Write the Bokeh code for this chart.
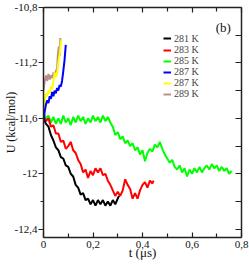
from bokeh.plotting import figure
from bokeh.models import LinearAxis, FixedTicker, Label, Legend, LegendItem, Range1d
from bokeh.embed import file_html
from bokeh.resources import INLINE

# ---------------- data ----------------
t_281 = [0.00, 0.01, 0.02, 0.03, 0.04, 0.05, 0.06, 0.07, 0.08, 0.09, 0.10, 0.11, 0.12, 0.13, 0.14, 0.15,
         0.16, 0.17, 0.18, 0.19, 0.20, 0.21, 0.22, 0.23, 0.24, 0.25, 0.26, 0.27, 0.28, 0.29, 0.30, 0.305]
u_281 = [-11.60, -11.64, -11.66, -11.72, -11.76, -11.81, -11.83, -11.88, -11.89, -11.94, -11.95, -12.00,
         -12.02, -12.08, -12.10, -12.15, -12.14, -12.19, -12.18, -12.22, -12.19, -12.23, -12.19, -12.22,
         -12.19, -12.23, -12.20, -12.23, -12.19, -12.22, -12.18, -12.16]

t_283 = [0.00, 0.01, 0.02, 0.03, 0.04, 0.05, 0.06, 0.07, 0.08, 0.09, 0.10, 0.11, 0.12, 0.13, 0.14, 0.15,
         0.16, 0.17, 0.18, 0.19, 0.20, 0.21, 0.22, 0.23, 0.24, 0.25, 0.26, 0.27, 0.28, 0.29, 0.30, 0.31,
         0.32, 0.33, 0.34, 0.35, 0.36, 0.37, 0.38, 0.39, 0.40, 0.41, 0.42, 0.43, 0.44, 0.445]
u_283 = [-11.58, -11.62, -11.60, -11.66, -11.65, -11.71, -11.71, -11.77, -11.76, -11.82, -11.80, -11.77,
         -11.83, -11.85, -11.90, -11.93, -11.99, -11.97, -12.03, -11.98, -12.01, -11.96, -11.99, -11.96,
         -12.01, -12.00, -12.05, -12.08, -12.12, -12.16, -12.13, -12.16, -12.12, -12.04, -12.08, -12.11,
         -12.18, -12.14, -12.18, -12.12, -12.08, -12.06, -12.10, -12.05, -12.07, -12.05]

t_285 = [0.00, 0.01, 0.02, 0.03, 0.04, 0.05, 0.06, 0.07, 0.08, 0.09, 0.10, 0.11, 0.12, 0.13, 0.14, 0.15,
         0.16, 0.17, 0.18, 0.19, 0.20, 0.21, 0.22, 0.23, 0.24, 0.25, 0.26, 0.27, 0.28, 0.29, 0.30, 0.31,
         0.32, 0.33, 0.34, 0.35, 0.36, 0.37, 0.38, 0.39, 0.40, 0.41, 0.42, 0.43, 0.44, 0.45, 0.46, 0.47,
         0.48, 0.49, 0.50, 0.51, 0.52, 0.53, 0.54, 0.55, 0.56, 0.57, 0.58, 0.59, 0.60, 0.61, 0.62, 0.63,
         0.64, 0.65, 0.66, 0.67, 0.68, 0.69, 0.70, 0.71, 0.72, 0.73, 0.74, 0.75, 0.76]
u_285 = [-11.56, -11.60, -11.58, -11.63, -11.59, -11.64, -11.60, -11.64, -11.58, -11.63, -11.60, -11.65,
         -11.59, -11.63, -11.58, -11.62, -11.59, -11.64, -11.60, -11.63, -11.58, -11.62, -11.59, -11.63,
         -11.58, -11.62, -11.59, -11.63, -11.66, -11.72, -11.70, -11.75, -11.73, -11.78, -11.76, -11.80,
         -11.78, -11.83, -11.81, -11.86, -11.83, -11.91, -11.85, -11.82, -11.84, -11.79, -11.81, -11.77,
         -11.82, -11.86, -11.89, -11.92, -11.90, -11.95, -11.97, -11.94, -11.99, -11.96, -12.02, -11.97,
         -12.00, -11.96, -11.99, -11.95, -11.99, -11.96, -11.94, -11.97, -11.93, -11.96, -11.94, -11.98,
         -11.95, -11.98, -11.96, -12.00, -11.98]

t_287a = [0.000, 0.005, 0.010, 0.015, 0.020, 0.025, 0.030, 0.035, 0.040, 0.045, 0.050, 0.055, 0.060,
          0.065, 0.070, 0.075, 0.080, 0.085, 0.090]
u_287a = [-11.62, -11.55, -11.50, -11.47, -11.49, -11.44, -11.46, -11.41, -11.44, -11.40, -11.42, -11.38,
          -11.40, -11.36, -11.37, -11.33, -11.26, -11.18, -11.07]

t_287b = [0.000, 0.005, 0.010, 0.015, 0.020, 0.025, 0.030, 0.035, 0.040, 0.045, 0.050, 0.055, 0.060,
          0.065, 0.070, 0.072]
u_287b = [-11.55, -11.48, -11.42, -11.44, -11.40, -11.42, -11.37, -11.39, -11.33, -11.27, -11.30, -11.28,
          -11.20, -11.14, -11.06, -11.03]

t_289 = [0.000, 0.005, 0.010, 0.015, 0.020, 0.025, 0.030, 0.035, 0.040, 0.045, 0.050, 0.055, 0.058,
         0.062, 0.065, 0.068]
u_289 = [-11.40, -11.33, -11.29, -11.33, -11.28, -11.32, -11.29, -11.31, -11.27, -11.30, -11.26, -11.24,
         -11.14, -11.08, -11.15, -11.02]

series_labels = ["281 K", "283 K", "285 K", "287 K", "287 K", "289 K"]
series_colors = ["#000000", "#ff0000", "#00ff00", "#0000ff", "#ffff00", "#bc8f8f"]

x_major = [0.0, 0.2, 0.4, 0.6, 0.8]
x_major_labels = ["0", "0,2", "0,4", "0,6", "0,8"]
x_minor = [0.1, 0.3, 0.5, 0.7]
y_major = [-12.4, -12.0, -11.6, -11.2, -10.8]
y_major_labels = ["-12,4", "-12", "-11,6", "-11,2", "-10,8"]
y_minor = [-12.2, -11.8, -11.4, -11.0]
x_title = "t (\u03bcs)"
y_title = "U (kcal/mol)"
panel_tag = "(b)"

# ---------------- figure ----------------
SERIF = "Liberation Serif"
AX = "#222222"

p = figure(width=249, height=267, x_range=Range1d(0, 0.8), y_range=Range1d(-12.46, -10.8),
           output_backend="svg", toolbar_location=None,
           min_border_left=42, min_border_right=8, min_border_top=7, min_border_bottom=30)
p.xgrid.visible = False
p.ygrid.visible = False
p.outline_line_color = None
p.background_fill_color = "white"
p.border_fill_color = "white"

# bottom axis
xa = p.xaxis[0]
xa.ticker = FixedTicker(ticks=x_major, minor_ticks=x_minor)
xa.major_label_overrides = dict(zip(x_major, x_major_labels))
xa.major_tick_in = 5
xa.major_tick_out = 0
xa.minor_tick_in = 4
xa.minor_tick_out = 0
xa.major_label_standoff = 3
xa.axis_label = x_title
xa.axis_label_standoff = -6
xa.axis_label_text_font_size = "13px"

# left axis
ya = p.yaxis[0]
ya.ticker = FixedTicker(ticks=y_major, minor_ticks=y_minor)
ya.major_label_overrides = dict(zip(y_major, y_major_labels))
ya.major_tick_in = 0
ya.major_tick_out = 5
ya.minor_tick_in = 0
ya.minor_tick_out = 3
ya.major_label_standoff = 1
ya.axis_label = y_title
ya.axis_label_standoff = -6
ya.axis_label_text_font_size = "12px"

# top and right axes (ticks only)
top = LinearAxis(ticker=FixedTicker(ticks=x_major, minor_ticks=x_minor),
                 major_label_overrides={v: "" for v in x_major},
                 major_tick_in=5, major_tick_out=0, minor_tick_in=4, minor_tick_out=0,
                 major_label_standoff=0)
right_ticks = sorted(y_major + y_minor)
right = LinearAxis(ticker=FixedTicker(ticks=right_ticks, minor_ticks=[]),
                   major_label_overrides={v: "" for v in right_ticks},
                   major_tick_in=6, major_tick_out=0, minor_tick_in=0, minor_tick_out=0,
                   major_label_standoff=0)
p.add_layout(top, "above")
p.add_layout(right, "right")

for ax in [xa, ya, top, right]:
    ax.axis_line_color = AX
    ax.axis_line_width = 1.5
    ax.major_tick_line_color = AX
    ax.major_tick_line_width = 1.2
    ax.minor_tick_line_color = AX
    ax.minor_tick_line_width = 1.2
    ax.major_label_text_font = SERIF
    ax.major_label_text_font_size = "11px"
    ax.major_label_text_color = "#111111"
    ax.axis_label_text_font = SERIF
    ax.axis_label_text_font_style = "normal"
    ax.axis_label_text_color = "#111111"

# ---------------- series ----------------
order = [(t_285, u_285, 2), (t_283, u_283, 1), (t_281, u_281, 0),
         (t_289, u_289, 5), (t_287b, u_287b, 4), (t_287a, u_287a, 3)]
rend = {}
for tt, uu, idx in order:
    rend[idx] = p.line(tt, uu, line_color=series_colors[idx], line_width=2)

# legend: one entry per row so that the rows can sit close together as in the original
ROW0, PITCH, ANCHOR = 32.0, 11.1, 224.6
for i in range(6):
    lg = Legend(items=[LegendItem(label=series_labels[i], renderers=[rend[i]])],
                location=(120, ANCHOR - (ROW0 + PITCH * i)), orientation="vertical",
                glyph_width=8, glyph_height=12, label_height=12, label_standoff=3,
                spacing=0, padding=0, margin=0,
                label_text_font=SERIF, label_text_font_size="10px",
                border_line_color=None, background_fill_alpha=0)
    p.add_layout(lg)

p.add_layout(Label(x=0.6955, y=-10.941, text=panel_tag, text_font=SERIF, text_font_size="13px",
                   text_baseline="middle", text_align="left", text_color="#111111"))

open("out.html", "w").write(file_html(p, INLINE))
